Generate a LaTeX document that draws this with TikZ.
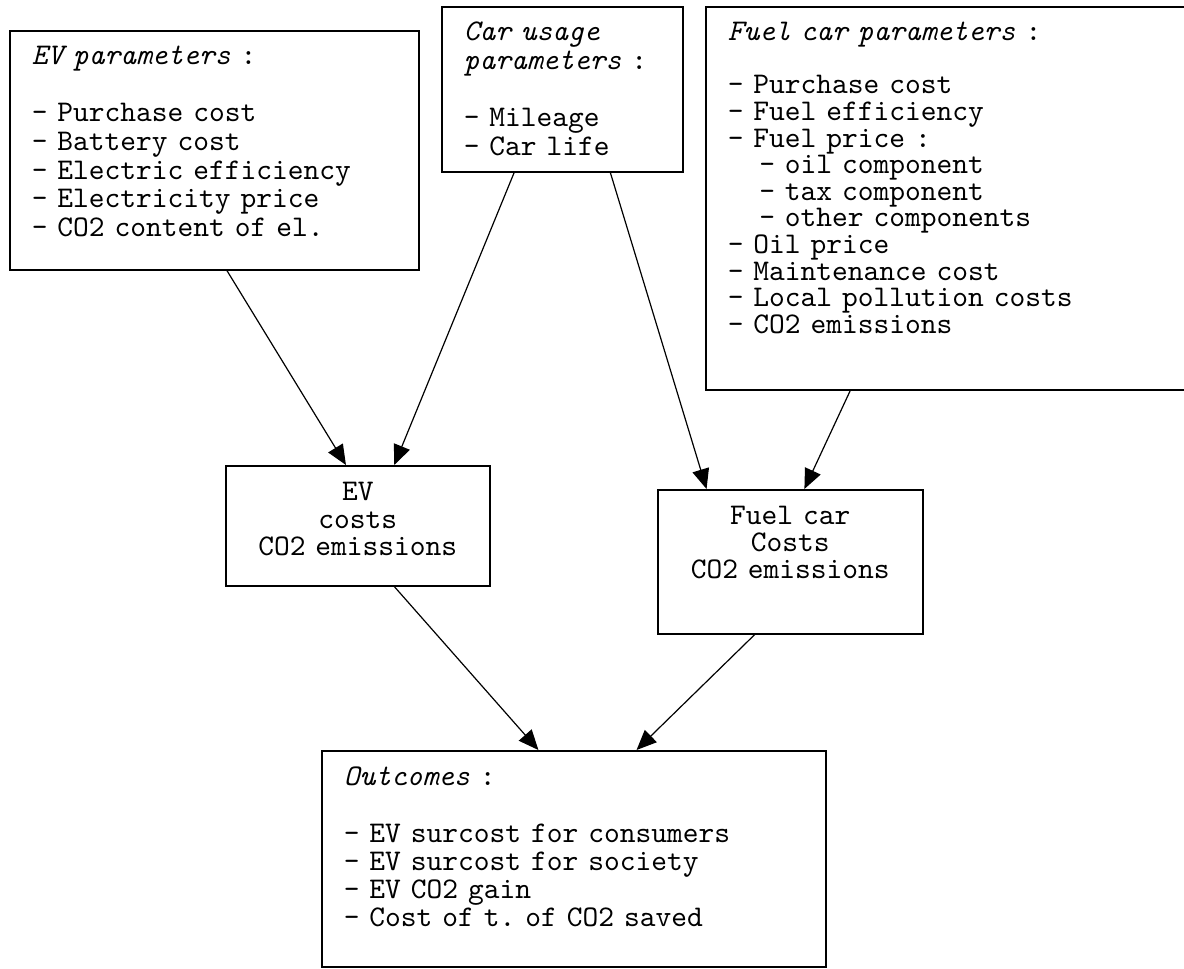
\documentclass[tikz,border=0pt]{standalone}
\usepackage{fontspec}
\setmonofont{lmmono10-regular.otf}[ItalicFont=lmmono10-italic.otf]
\usetikzlibrary{arrows.meta}

\newcommand{\ind}{\hspace*{2\fontcharwd\font`\x}}
\newcommand{\boxfont}[1]{\ttfamily\fontsize{30}{#1}\selectfont
\frenchspacing\spaceskip=\fontcharwd\font`\x\xspaceskip=\spaceskip\relax}

\begin{document}
\begin{tikzpicture}[x=1pt,y=-1pt]
\tikzset{
box/.style={draw,line width=1.5pt,inner xsep=22pt,inner ysep=0pt,anchor=north west,
font=\boxfont{28.6}},
arr/.style={line width=1.2pt,-{Triangle[length=20pt,width=17pt]}}
}
\useasboundingbox (0,0) rectangle (1184,969);

\node[box,align=left,text width=365pt,text height=34pt,text depth=205pt] (evpar) at (9,30)
{\textit{EV parameters} :\\ ~\\- Purchase cost\\- Battery cost\\- Electric efficiency\\- Electricity price\\- CO2 content of el.};
\node[box,align=left,text width=197pt,text height=34pt,text depth=131pt] (usage) at (441,6)
{\textit{Car usage}\\\textit{parameters} :\\ ~\\- Mileage\\- Car life};
\node[box,align=left,text width=441pt,text height=34pt,text depth=349pt,
font=\boxfont{26.6}] (fuelpar) at (705,6)
{\textit{Fuel car parameters} :\\ ~\\- Purchase cost\\- Fuel efficiency\\- Fuel price :\\\ind- oil component\\\ind- tax component\\\ind- other components\\- Oil price\\- Maintenance cost\\- Local pollution costs\\- CO2 emissions};
\node[box,align=center,text width=220pt,text height=35pt,text depth=85pt,
font=\boxfont{27.5}] (evcost) at (225,465)
{EV\\costs\\CO2 emissions};
\node[box,align=center,text width=221pt,text height=35pt,text depth=109pt,
font=\boxfont{27}] (fuelcost) at (657,489)
{Fuel car\\Costs\\CO2 emissions};
\node[box,align=left,text width=460pt,text height=35pt,text depth=181pt,
font=\boxfont{28.2}] (outc) at (321,750)
{\textit{Outcomes} :\\ ~\\- EV surcost for consumers\\- EV surcost for society\\- EV CO2 gain\\- Cost of t. of CO2 saved};

\draw[arr] (evpar.-84.5) -- (evcost.101.3);
\draw[arr] (usage.-120.5) -- (evcost.59);
\draw[arr] (usage.-60.1) -- (fuelcost.139.6);
\draw[arr] (fuelpar.-117) -- (fuelcost.79.4);
\draw[arr] (evcost.-59) -- (outc.108.9);
\draw[arr] (fuelcost.-116.9) -- (outc.60.5);
\end{tikzpicture}
\end{document}
